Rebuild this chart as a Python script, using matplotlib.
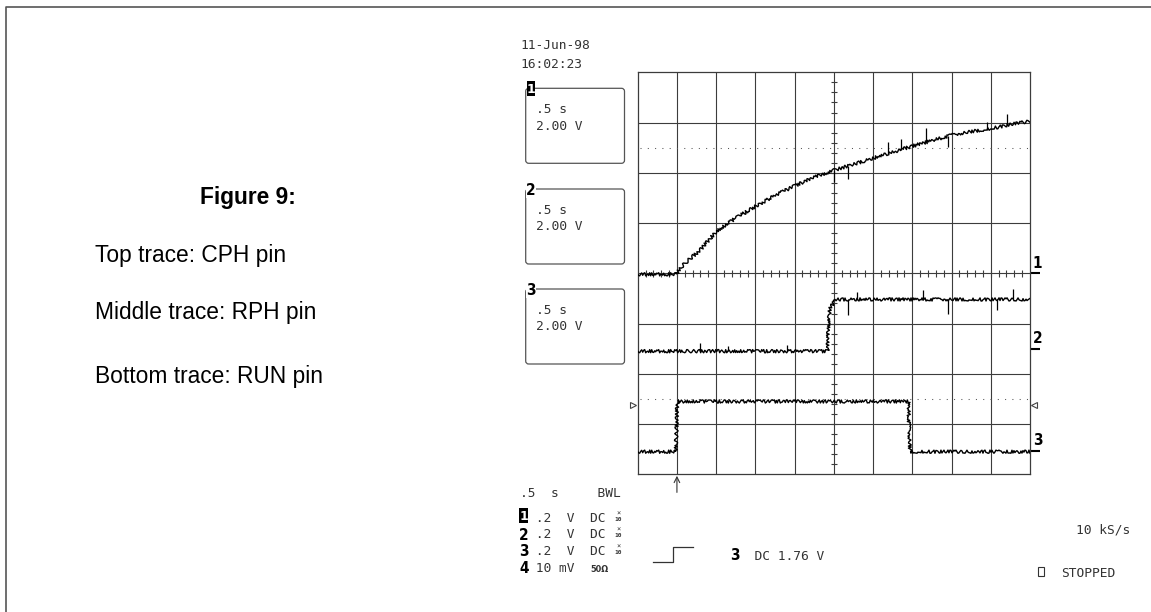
import numpy as np
import matplotlib
matplotlib.use('Agg')
import matplotlib.pyplot as plt
from matplotlib.patches import FancyBboxPatch, Rectangle

# scope screen is 10 x 8 divisions, values below are in divisions
# ch1 = CPH pin, ch2 = RPH pin, ch3 = RUN pin
ch1_t = [0, 0.99, 1.08, 1.29, 1.59, 2.0, 2.5, 3.0, 3.5, 4.0, 4.5, 5.0, 5.5, 6.0,
         6.5, 7.0, 7.5, 8.0, 8.5, 9.0, 9.5, 10.0]
ch1_v = [3.98, 3.98, 4.10, 4.26, 4.46, 4.83, 5.10, 5.33, 5.55, 5.74, 5.91, 6.05,
         6.17, 6.29, 6.41, 6.53, 6.64, 6.75, 6.82, 6.88, 6.96, 7.03]
ch1_spike_t = [5.0, 5.37, 6.39, 6.71, 7.36, 7.92, 8.9, 9.41]
ch1_spike_lo = [6.05, 6.14, 6.38, 6.46, 6.62, 6.74, 6.87, 6.95]
ch1_spike_hi = [5.82, 5.87, 6.62, 6.67, 6.89, 6.51, 7.02, 7.18]

ch2_t = [0, 4.84, 4.86, 4.90, 4.97, 5.03, 10.0]
ch2_v = [2.45, 2.45, 2.95, 3.32, 3.38, 3.48, 3.48]
ch2_spike_t = [1.59, 2.3, 3.8, 5.37, 5.58, 7.28, 7.92, 9.15, 9.57]
ch2_spike_lo = [2.45, 2.45, 2.45, 3.48, 3.48, 3.48, 3.48, 3.48, 3.48]
ch2_spike_hi = [2.61, 2.56, 2.57, 3.17, 3.63, 3.67, 3.20, 3.27, 3.68]

ch3_t = [0, 0.97, 0.99, 1.01, 6.90, 6.92, 6.94, 10.0]
ch3_v = [0.45, 0.45, 0.90, 1.45, 1.45, 0.90, 0.45, 0.45]

ground_levels = [4.0, 2.5, 0.47]
ground_labels = ['1', '2', '3']
dotted_levels = [6.5, 1.5]
trig_level = 1.37

caption_title = 'Figure 9:'
caption_lines = ['Top trace: CPH pin', 'Middle trace: RPH pin', 'Bottom trace: RUN pin']

mono = 'DejaVu Sans Mono'
txt_col = '#333333'
grid_col = '#3c3c3c'

fig = plt.figure(figsize=(11.51, 6.12), dpi=100)

# graticule
W, H = 1151, 612
ax = fig.add_axes([637.7 / W, (H - 474.3) / H, 392.3 / W, 402 / H])
ax.set_xlim(0, 10)
ax.set_ylim(0, 8)
ax.set_xticks([])
ax.set_yticks([])
for s in ax.spines.values():
    s.set_color(grid_col)
    s.set_linewidth(0.9)
for i in range(1, 10):
    ax.axvline(i, color=grid_col, lw=0.8, zorder=1)
for j in range(1, 8):
    ax.axhline(j, color=grid_col, lw=0.8, zorder=1)

# minor ticks on the centre lines
xt = np.arange(0.2, 10, 0.2)
ax.vlines(xt, 4 - 0.066, 4 + 0.066, color=grid_col, lw=0.8, zorder=1)
yt = np.arange(0.2, 8, 0.2)
ax.hlines(yt, 5 - 0.077, 5 + 0.077, color=grid_col, lw=0.8, zorder=1)

for lv in dotted_levels:
    ax.plot([0.05, 9.95], [lv, lv], color='#555555', lw=0.75,
            linestyle=(0, (1, 6)), zorder=1)

# traces (sketch gives the scope noise look)
for t, v in [(ch1_t, ch1_v), (ch2_t, ch2_v), (ch3_t, ch3_v)]:
    ln, = ax.plot(t, v, color='black', lw=1.0, zorder=3)
    ln.set_sketch_params(scale=1.6, length=2.0, randomness=4)

ax.vlines(ch1_spike_t, ch1_spike_lo, ch1_spike_hi, color='black', lw=0.9, zorder=3)
ax.vlines(ch2_spike_t, ch2_spike_lo, ch2_spike_hi, color='black', lw=0.9, zorder=3)

# ground markers on the right
for lv, lab in zip(ground_levels, ground_labels):
    ax.plot([10, 10.25], [lv, lv], color='black', lw=1.5, clip_on=False,
            solid_capstyle='butt')
    ax.text(10.19, lv + 0.05, lab, ha='center', va='bottom', fontsize=11,
            fontweight='bold', family='DejaVu Sans', fontstretch='condensed')

# trigger level markers
ax.plot([-0.12], [trig_level], marker='>', ms=5, mfc='white', mec='#444444',
        mew=0.8, clip_on=False)
ax.plot([10.1], [trig_level], marker='<', ms=5, mfc='white', mec='#444444',
        mew=0.8, clip_on=False)

# trigger position arrow
ax.annotate('', xy=(1.0, -0.03), xytext=(1.0, -0.36),
            arrowprops=dict(arrowstyle='->', color='#333333', lw=0.8,
                            shrinkA=0, shrinkB=0), annotation_clip=False)

# overlay in pixel coords for all the text around the screen
ov = fig.add_axes([0, 0, 1, 1])
ov.set_xlim(0, W)
ov.set_ylim(H, 0)
ov.axis('off')

# page border (only top and left visible)
ov.plot([5.7, 5.7, W], [H, 6.7, 6.7], color='#555555', lw=1.2)

ov.text(200, 204, caption_title, fontsize=16.4, fontweight='bold',
        family=['Liberation Sans', 'DejaVu Sans'], va='baseline', ha='left')
for yb, line in zip([261.7, 319.5, 383.3], caption_lines):
    ov.text(95, yb, line, fontsize=16.4, family=['Liberation Sans', 'DejaVu Sans'],
            va='baseline', ha='left')

# date / time
ov.text(520.5, 49.3, '11-Jun-98', family=mono, fontsize=9.3, color=txt_col, va='baseline')
ov.text(520.5, 68.3, '16:02:23', family=mono, fontsize=9.3, color=txt_col, va='baseline')


def badge(x, yc, digit):
    # white digit on a black block, as the scope draws channel 1
    ov.add_patch(Rectangle((x, yc - 7.5), 8.5, 15, fc='black', ec='none', zorder=4))
    ov.text(x + 4.25, yc + 0.5, digit, color='white', fontsize=9, fontweight='bold',
            family='DejaVu Sans', ha='center', va='center', zorder=5)


# channel boxes
box_tops = [88.3, 189.0, 289.0]
for k, top in enumerate(box_tops):
    ov.add_patch(FancyBboxPatch((525.7, top), 98.8, 75.0,
                                boxstyle='round,pad=0,rounding_size=3',
                                fc='white', ec='#555555', lw=0.9))
    ov.text(536, top + 24.5, '.5 s', family=mono, fontsize=9.3, color=txt_col,
            va='baseline')
    ov.text(536, top + 41.5, '2.00 V', family=mono, fontsize=9.3, color=txt_col,
            va='baseline')
    if k == 0:
        badge(527.0, top + 0.5, '1')
    else:
        ov.text(531.1, top + 1.5, str(k + 1), color='black', fontsize=11,
                fontweight='bold', family='DejaVu Sans', fontstretch='condensed',
                ha='center', va='center', zorder=5,
                bbox=dict(fc='white', ec='none', pad=0.2))

# bottom readout
ov.text(520.5, 496.7, '.5  s     BWL', family=mono, fontsize=9.3, color=txt_col,
        va='baseline')
row_base = [521.7, 538.3, 555.0, 571.7]
row_text = [' .2  V  DC', ' .2  V  DC', ' .2  V  DC', ' 10 mV']
for k, (yb, rt) in enumerate(zip(row_base, row_text)):
    if k == 0:
        badge(519.5, yb - 6.0, '1')
    else:
        ov.text(523.7, yb + 1.5, str(k + 1), color='black', fontsize=11,
                fontweight='bold', family='DejaVu Sans', fontstretch='condensed',
                ha='center', va='baseline')
    ov.text(520.5 + 7.8, yb, rt, family=mono, fontsize=9.3, color=txt_col, va='baseline')
    if k < 3:
        ov.text(618.3, yb - 8.5, '\u00d7', family=mono, fontsize=5, color=txt_col,
                ha='center', va='center')
        ov.text(618.3, yb - 2.5, '10', family=mono, fontsize=4.5, color=txt_col,
                ha='center', va='center', fontweight='bold')
    else:
        ov.text(590.7, yb, '50\u03a9', family='DejaVu Sans', fontsize=6.5,
                color=txt_col, va='baseline', fontweight='bold',
                fontstretch='condensed')

# trigger slope symbol and level
ov.plot([653.3, 673.3, 673.3, 692.7], [561.7, 561.7, 546.7, 546.7],
        color='#333333', lw=0.9)
ov.text(734.5, 560.5, '3', color='black', fontsize=11, fontweight='bold',
        family='DejaVu Sans', fontstretch='condensed', ha='center', va='baseline')
ov.text(731.7 + 7.8, 560, '  DC 1.76 V', family=mono, fontsize=9.3, color=txt_col,
        va='baseline')

ov.text(1130, 533.3, '10 kS/s', family=mono, fontsize=9.3, color=txt_col,
        va='baseline', ha='right')
ov.add_patch(Rectangle((1038.5, 566.5), 5.5, 9.5, fc='white', ec='#333333', lw=0.8))
ov.text(1061.5, 576.7, 'STOPPED', family=mono, fontsize=9.3, color=txt_col,
        va='baseline')

fig.savefig('out.png', dpi=100)
